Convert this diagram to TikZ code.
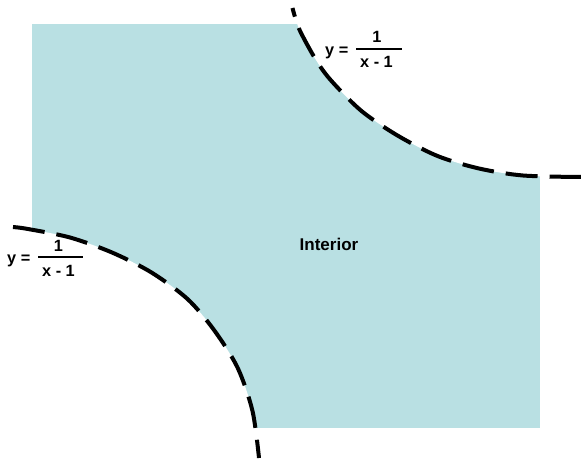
\documentclass[tikz,border=0pt]{standalone}
\usepackage{fontspec}
\setmainfont{Liberation Sans}
\definecolor{interior}{RGB}{185,224,227}
\tikzset{
  curveline/.style={line width=4pt, dash pattern=on 32pt off 12pt},
  lbl/.style={inner sep=0pt, font=\fontsize{16.3}{16.3}\selectfont\bfseries},
  fracbar/.style={line width=1.6pt}
}
\begin{document}
\begin{tikzpicture}[x=1pt,y=-1pt]
\useasboundingbox (0,0) rectangle (581,462);
% interior region
\fill[interior] (32,24) rectangle (540,428);
\fill[white] plot[smooth] coordinates {(292.5,8) (299.3,29.3) (316,60) (331.5,81) (361.5,111) (397.5,135.5) (437.5,156) (479,168.5) (523,175.5) (581,177)} -- (581,0) -- (292.5,0) -- cycle;
\fill[white] plot[smooth] coordinates {(13,227) (28,229) (70,237.5) (112,252.5) (151.5,272.5) (187.5,299) (214,330) (237.5,367.5) (252.5,411) (259,458)} -- (259,462) -- (0,462) -- (0,227) -- cycle;
% dashed boundary curves
\draw[curveline, dash phase=23pt] plot[smooth] coordinates {(292.5,8) (299.3,29.3) (316,60) (331.5,81) (361.5,111) (397.5,135.5) (437.5,156) (479,168.5) (523,175.5) (581,177)};
\draw[curveline] plot[smooth] coordinates {(13,227) (28,229) (70,237.5) (112,252.5) (151.5,272.5) (187.5,299) (214,330) (237.5,367.5) (252.5,411) (259,458)};
% label
\node[lbl, font=\fontsize{17}{17}\selectfont\bfseries, anchor=base] (int) at (329,250.7) {Interior};
% top-right equation
\node[lbl, anchor=base west] (ty) at (325,55.5) {y =};
\node[lbl, anchor=base] (tn) at (377,43) {1};
\node[lbl, anchor=base] (td) at (376.5,68) {x - 1};
\coordinate (tb1) at (356,49);
\coordinate (tb2) at (402,49);
\draw[fracbar] (tb1) -- (tb2);
% bottom-left equation
\node[lbl, anchor=base west] (by) at (7,263.5) {y =};
\node[lbl, anchor=base] (bn) at (58.5,251.7) {1};
\node[lbl, anchor=base] (bd) at (58.5,276.5) {x - 1};
\coordinate (bb1) at (38,257.3);
\coordinate (bb2) at (83,257.3);
\draw[fracbar] (bb1) -- (bb2);
\end{tikzpicture}
\end{document}
